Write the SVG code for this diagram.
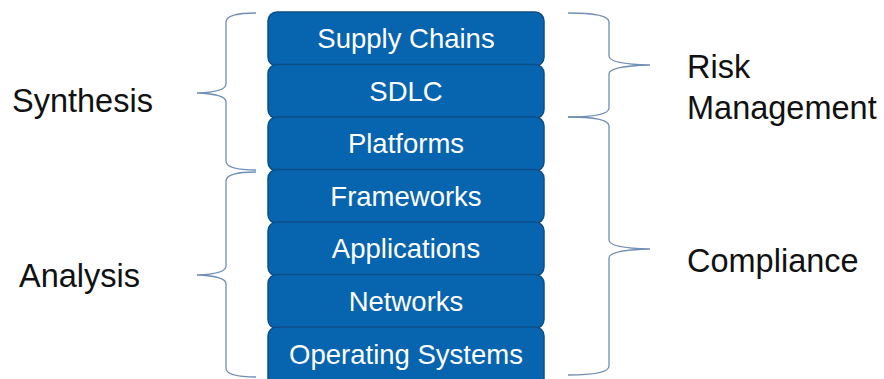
<svg xmlns="http://www.w3.org/2000/svg" width="884" height="379" viewBox="0 0 884 379">
<style>
.box{fill:#0764af;stroke:#0c4f88;stroke-width:1.5}
.bt{font-family:"Liberation Sans",Arial,sans-serif;font-size:27.5px;fill:#ffffff;text-anchor:middle}
.lbl{font-family:"Liberation Sans",Arial,sans-serif;font-size:32.5px;fill:#111111}
.brace{fill:none;stroke:#6f8fb5;stroke-width:1.3}
</style>
<rect width="884" height="379" fill="#ffffff"/>
<g id="connectors">
<path class="brace" d="M256 13 Q226 13 226 22 L226 84 Q226 92 197 93 Q226 94 226 102 L226 161 Q226 170 256 170"/>
<path class="brace" d="M256 172 Q226 172 226 181 L226 266 Q226 274 197 275 Q226 276 226 284 L226 368 Q226 377 256 377"/>
<path class="brace" d="M568 13 Q609 13 609 22 L609 56 Q609 64 650 65 Q609 66 609 74 L609 108 Q609 117 568 117"/>
<path class="brace" d="M568 117 Q609 117 609 126 L609 240 Q609 248 650 249 Q609 250 609 258 L609 366 Q609 375 568 375"/>
</g>
<g id="n1"><rect class="box" x="268" y="12" width="276" height="54" rx="9"/><text class="bt" x="406" y="48">Supply Chains</text></g>
<g id="n2"><rect class="box" x="268" y="64.5" width="276" height="54" rx="9"/><text class="bt" x="406" y="101">SDLC</text></g>
<g id="n3"><rect class="box" x="268" y="117" width="276" height="54" rx="9"/><text class="bt" x="406" y="153">Platforms</text></g>
<g id="n4"><rect class="box" x="268" y="169.5" width="276" height="54" rx="9"/><text class="bt" x="406" y="206">Frameworks</text></g>
<g id="n5"><rect class="box" x="268" y="222" width="276" height="54" rx="9"/><text class="bt" x="406" y="258">Applications</text></g>
<g id="n6"><rect class="box" x="268" y="274.5" width="276" height="54" rx="9"/><text class="bt" x="406" y="311">Networks</text></g>
<g id="n7"><rect class="box" x="268" y="327" width="276" height="62" rx="9"/><text class="bt" x="406" y="364">Operating Systems</text></g>
<g id="synthesis"><text class="lbl" x="12" y="112">Synthesis</text></g>
<g id="analysis"><text class="lbl" x="19" y="287">Analysis</text></g>
<g id="risk"><text class="lbl" x="687" y="78">Risk</text><text class="lbl" x="687" y="119">Management</text></g>
<g id="compliance"><text class="lbl" x="687" y="272">Compliance</text></g>
</svg>
